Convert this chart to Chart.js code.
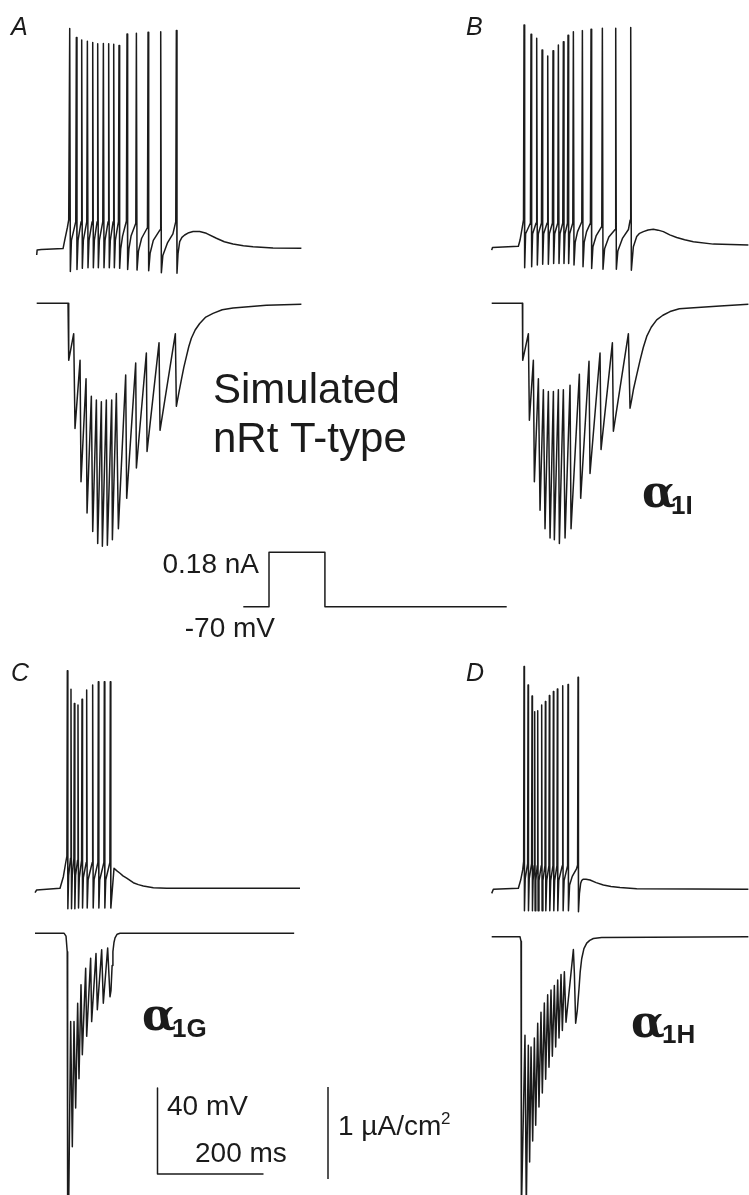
<!DOCTYPE html>
<html>
<head>
<meta charset="utf-8">
<script src="https://cdn.jsdelivr.net/npm/chart.js@4.4.1/dist/chart.umd.min.js"></script>
<style>
  html, body { margin: 0; padding: 0; background: #fff; }
  #fig { display: block; }
</style>
</head>
<body>
<canvas id="fig" width="749" height="1195"></canvas>
<script>
// ---- data: time in ms, voltage in mV, current in uA/cm2 ----

// A: simulated nRt T-type
const voltA = [
  [0,-72.8],[0.8,-70.5],[8.8,-70.2],[49.7,-69.8],[52.8,-66],[57.9,-60],[60.4,-56.5],
  [62.3,32.6],[63.5,-80.5],
  [65.5,-66],[73.7,-57.3],[74.8,28.4],[76,-79.5],
  [78,-66],[83.8,-57.3],[84.9,27.2],[86.1,-79],
  [88,-66],[94.5,-57.3],[95.6,26.6],[96.8,-78.7],
  [98.7,-66],[104.6,-57.3],[105.7,26.1],[106.9,-78.7],
  [108.8,-66],[114,-57.3],[115.1,25.5],[116.3,-78.7],
  [118.2,-66],[124.7,-57.3],[125.8,25.6],[127,-78.7],
  [128.9,-66],[134.7,-57.3],[135.8,25.5],[137,-78.7],
  [138.9,-66],[144.2,-57.3],[145.3,25.2],[146.5,-78.7],
  [148.4,-66],[154.2,-57.3],[155.3,24.7],[156.5,-79],
  [158.5,-70],[162,-64],[169.3,-57],[170.4,30],[171.6,-79.5],
  [174,-70],[178,-64],[187,-58],[188.1,30.3],[189.3,-79.8],
  [192,-71],[198,-65],[209,-60],[210.1,30.8],[211.3,-80.1],
  [214,-72],[220,-66],[232.9,-61],[234,31.1],[235.2,-81],
  [238,-73],[247,-67],[257,-63],[262.4,-57.3],[263.5,31.6],[264.7,-81.3],
  [266.7,-72],[269.8,-66.6],[274,-64.6],[279.2,-63.5],[287,-62.4],[295,-61.9],
  [307.5,-61.9],[320.1,-62.7],[339,-65],[354,-66.6],[370.4,-67.7],[390,-68.5],
  [408.2,-68.9],[445.9,-69.5],[499.4,-69.7]
];
const currA = [
  [0,0],[59.1,0],[60.4,-0.62],[69.8,-0.33],[72.3,-1.36],
  [81.8,-0.62],[83.6,-1.94],[93.1,-0.82],[95,-2.28],
  [103.1,-1.01],[105.7,-2.48],[112.6,-1.05],[115.1,-2.61],
  [122,-1.07],[123.9,-2.64],[131.4,-1.05],[133.3,-2.63],
  [141.5,-1.05],[142.8,-2.57],[150.3,-0.98],[154.1,-2.45],
  [167.9,-0.78],[169.8,-2.12],[186.8,-0.65],[188.1,-1.79],
  [206.9,-0.54],[208.2,-1.61],[230.8,-0.43],[232.7,-1.38],
  [261.6,-0.33],[263.5,-1.12],
  [268,-0.98],[273,-0.83],[277.5,-0.7],[282.4,-0.58],[287,-0.47],[291.8,-0.38],
  [299,-0.29],[307.5,-0.22],[319,-0.15],[332.7,-0.11],[350,-0.07],
  [370.4,-0.05],[433.3,-0.02],[499.4,-0.01]
];

// B: alpha1I
const voltB = [
  [0,-71.6],[1.5,-70.4],[50.3,-69.8],[53.5,-66.9],[57.9,-60.7],[60,-57.5],
  [61,33.1],[62.2,-79.8],
  [64,-64],[73.1,-59],[74.2,28.8],[75.4,-79.3],
  [77.2,-64],[83.8,-59],[84.9,26.9],[86.1,-78.5],
  [88,-64],[93.9,-59],[95,21.5],[96.2,-78.2],
  [98,-64],[104.6,-59],[105.7,18.7],[106.9,-78.2],
  [108.8,-64],[114.6,-59],[115.7,21.1],[116.9,-77.8],
  [118.8,-64],[124.7,-59],[125.8,23.8],[127,-77.8],
  [128.9,-64],[134.1,-59],[135.2,25.3],[136.4,-77.8],
  [138.3,-64],[142.9,-59],[144,28.4],[145.2,-77.8],
  [147.1,-64],[153,-59],[154.1,30],[155.3,-78.5],
  [157.5,-68],[162,-63],[170,-58.4],[171.1,30.5],[172.3,-79.3],
  [174.5,-68],[179,-63],[186.3,-59],[187.4,31.1],[188.6,-80.1],
  [191,-70],[197,-65],[207.7,-60.5],[208.8,31.6],[210,-80.5],
  [213,-71],[221,-65.5],[232.9,-62],[234,31.6],[235.2,-80.5],
  [238,-72],[247,-66],[258,-62],[261.2,-57.6],[262.3,32],[263.5,-80.9],
  [267.3,-70],[273.6,-65.3],[279,-63.8],[286.2,-63],[295,-62.2],[305,-61.9],
  [314,-62.3],[323.9,-63],[336,-64.5],[349.1,-65.7],[364,-66.8],[380.5,-67.7],
  [418.2,-68.8],[484.3,-69.2]
];
const currB = [
  [0,0],[57.9,0],[58.5,-0.62],[69.2,-0.33],[71.1,-1.27],
  [78.6,-0.62],[80.5,-1.94],[88.1,-0.82],[91.2,-2.25],
  [97.5,-0.94],[100.6,-2.45],[106.9,-0.96],[110.1,-2.55],
  [116.4,-0.96],[118.2,-2.57],[125.8,-0.94],[127.7,-2.61],
  [135.2,-0.94],[138.4,-2.55],[147.8,-0.89],[149.7,-2.45],
  [165.4,-0.77],[167.9,-2.12],[183.6,-0.63],[185.5,-1.85],
  [204.4,-0.54],[206.3,-1.59],[227.7,-0.43],[229.6,-1.39],
  [257.9,-0.33],[261,-1.14],
  [264,-1.05],[267.3,-0.94],[273.5,-0.78],[279.9,-0.62],[286,-0.48],[292.5,-0.36],
  [301,-0.26],[311.3,-0.18],[323,-0.13],[336.5,-0.09],[354,-0.06],
  [374.2,-0.05],[430.8,-0.03],[484.3,-0.01]
];

// C: alpha1G
const voltC = [
  [0,-72],[3.1,-70.8],[47.2,-70],[53.5,-64.6],[58,-58],[60.2,-55],
  [61,31.2],[62,-79.5],
  [63.5,-64],[67.1,-56],[67.9,22.6],[68.9,-79.5],
  [70.3,-64],[73.4,-56],[74.2,16],[75.2,-79.5],
  [76.6,-64],[80.3,-57],[81.1,15.3],[82.1,-79.2],
  [83.6,-65],[87.9,-57],[88.7,17.9],[89.7,-79.2],
  [91.2,-65],[96.7,-58],[97.5,22.2],[98.5,-79.2],
  [100.2,-66],[108,-58],[108.8,24.6],[109.8,-79.2],
  [111.5,-66],[118.7,-58],[119.5,26.1],[120.5,-79.2],
  [122.2,-66],[130,-58],[130.8,26.1],[131.8,-79.2],
  [133.5,-66],[141.3,-58],[142.1,26.1],[143.1,-79.2],
  [149.1,-60.7],[154,-61.8],[160.4,-63],[166,-64.2],[173,-65.3],[185.5,-67.4],
  [195,-68.3],[204.4,-68.9],[223.3,-69.7],[248.4,-70],[500,-70]
];
const currC = [
  [0,0],[55,0],[58.5,-0.03],[60.8,-0.2],[61.6,-3.0],[63.5,-3.0],
  [67.3,-0.96],[70.4,-2.32],[73.6,-0.96],[76.7,-1.9],
  [80.5,-0.76],[83,-1.58],[86.8,-0.56],[89.3,-1.32],
  [95.6,-0.38],[97.5,-1.12],[105,-0.27],[106.9,-0.96],
  [115.1,-0.22],[117.6,-0.83],[125.8,-0.18],[128.9,-0.76],
  [137.1,-0.16],[141.5,-0.69],[143.4,-0.62],[145.5,-0.35],[147,-0.2],
  [149,-0.1],[151,-0.05],[155,-0.01],[160.4,0],[489,0]
];

// D: alpha1H
const voltD = [
  [0,-71.9],[3.1,-70],[50.3,-69.5],[54.7,-65.7],[58.5,-61],[60.3,-57],
  [61,33.6],[61.8,-80],
  [63.2,-65],[67.8,-58],[68.6,25],[69.4,-80],
  [70.8,-65],[75.3,-58],[76.1,19.9],[76.9,-80],
  [78,-66],[80.3,-59],[81.1,12.6],[81.9,-80],
  [83.2,-66],[86,-59],[86.8,13.1],[87.6,-80],
  [89.2,-66],[93.5,-59],[94.3,15.7],[95.1,-80],
  [96.6,-66],[100.5,-59],[101.3,17.3],[102.1,-80],
  [103.8,-66],[108,-59],[108.8,20.1],[109.6,-80],
  [111.3,-66],[115.6,-59],[116.4,22],[117.2,-80],
  [118.8,-66],[123.1,-59],[123.9,23.2],[124.7,-80],
  [126.5,-66],[133.2,-59],[134,24.7],[134.8,-80],
  [136.6,-66],[143.2,-59],[144,25.3],[144.8,-80],
  [147,-68],[152,-64],[160,-60.5],[162.1,-58.7],[162.9,28.6],[163.7,-80.4],
  [165.5,-72],[167.9,-67.2],[170,-65.8],[172.9,-65.3],[178,-65.3],[185.5,-65.7],
  [197,-66.9],[210.7,-68],[225,-68.7],[242.1,-69.2],[273.6,-69.8],[484.3,-70]
];
const currD = [
  [0,0],[53.4,0],[55.3,-0.05],[56,-3.0],[62.8,-1.07],[65.3,-2.95],
  [69.1,-1.18],[71.6,-2.45],[74.2,-1.2],[77.3,-2.22],
  [80.5,-1.1],[83,-2.05],[86.8,-0.94],[89.2,-1.85],
  [93,-0.82],[95.5,-1.7],[99.3,-0.72],[101.8,-1.55],
  [105.6,-0.63],[108.1,-1.42],[111.9,-0.58],[114.4,-1.3],
  [118.2,-0.53],[120.7,-1.2],[124.5,-0.47],[127,-1.1],
  [130.8,-0.41],[133.3,-1.02],[137.1,-0.38],[140.2,-0.93],
  [154.1,-0.14],[156,-0.4],[158.4,-0.94],[161.5,-0.8],[164.8,-0.56],[167,-0.38],
  [169.8,-0.24],[174,-0.13],[179.3,-0.07],[185,-0.04],[191.8,-0.02],[207.5,-0.01],[484.3,0]
];

// current injection protocol (nA)
const stimTime = [0, 48.5, 48.5, 154, 154, 497];
const stimAmp = [0, 0, 0.18, 0.18, 0, 0];

// scale bars
const barTime = 200;   // ms
const barVolt = 40;    // mV
const barCurr = 1;     // uA/cm2

// ---- layout (pixels) ----
const W = 749, H = 1195;
const MS_PX = 0.53;   // px per ms
const MV_PX = 2.15;   // px per mV
const UA_PX = 92;     // px per uA/cm2
const NA_PX = 302;    // px per nA

// value v0 sits at pixel p0
function xAxis(p0) {
  const min = -p0 / MS_PX;
  return { type: 'linear', axis: 'x', position: 'bottom', display: false, min: min, max: min + W / MS_PX };
}
function yAxis(p0, v0, k) {
  const max = v0 + p0 / k;
  return { type: 'linear', axis: 'y', position: 'left', display: false, min: max - H / k, max: max };
}

const INK = '#1b1b1b';
function trace(pairs, xId, yId) {
  return {
    data: pairs.map(p => ({ x: p[0], y: p[1] })),
    xAxisID: xId, yAxisID: yId,
    showLine: true, pointRadius: 0,
    borderColor: INK, borderWidth: 1.5,
    borderJoinStyle: 'round',
    tension: 0
  };
}

const SANS = '"Liberation Sans", Arial, sans-serif';
const ALPHA = 'bold 44px "DejaVu Serif", serif';
const SUB = 'bold 26px ' + SANS;
const labels = [
  { text: 'A', x: 11, y: 35, font: 'italic 25px ' + SANS },
  { text: 'B', x: 466, y: 35, font: 'italic 25px ' + SANS },
  { text: 'C', x: 11, y: 681, font: 'italic 25px ' + SANS },
  { text: 'D', x: 466, y: 681, font: 'italic 25px ' + SANS },
  { text: 'Simulated', x: 213, y: 403, font: '42px ' + SANS },
  { text: 'nRt T-type', x: 213, y: 452, font: '42px ' + SANS },
  { text: '0.18 nA', x: 259, y: 573, font: '28px ' + SANS, align: 'right' },
  { text: '-70 mV', x: 275, y: 637, font: '28px ' + SANS, align: 'right' },
  { text: '40 mV', x: 167, y: 1115, font: '28px ' + SANS },
  { text: '200 ms', x: 195, y: 1162, font: '28px ' + SANS },
  { text: '1 \u00b5A/cm', x: 338, y: 1135, font: '28px ' + SANS },
  { text: '2', x: 441, y: 1124, font: '17px ' + SANS },
  { text: '\u03b1', x: 642, y: 507, font: ALPHA },
  { text: '1I', x: 671, y: 514, font: SUB },
  { text: '\u03b1', x: 142, y: 1030, font: ALPHA },
  { text: '1G', x: 172, y: 1037, font: SUB },
  { text: '\u03b1', x: 631, y: 1037, font: ALPHA },
  { text: '1H', x: 662, y: 1043, font: SUB }
];

const textPlugin = {
  id: 'figText',
  afterDatasetsDraw(chart) {
    const ctx = chart.ctx;
    ctx.save();
    ctx.fillStyle = INK;
    ctx.textBaseline = 'alphabetic';
    labels.forEach(l => {
      ctx.font = l.font;
      ctx.textAlign = l.align || 'left';
      ctx.fillText(l.text, l.x, l.y);
    });
    ctx.restore();
  }
};

const datasets = [
  trace(voltA, 'xA', 'vA'), trace(currA, 'xA', 'iA'),
  trace(voltB, 'xB', 'vB'), trace(currB, 'xB', 'iB'),
  trace(voltC, 'xC', 'vC'), trace(currC, 'xC', 'iC'),
  trace(voltD, 'xD', 'vD'), trace(currD, 'xD', 'iD'),
  trace(stimTime.map((t, i) => [t, stimAmp[i]]), 'xS', 'nS'),
  trace([[0, barVolt], [0, 0], [barTime, 0]], 'xBar', 'vBar'),
  trace([[0, 0], [0, barCurr]], 'xIbar', 'iBar')
];

new Chart(document.getElementById('fig'), {
  type: 'scatter',
  data: { datasets: datasets },
  options: {
    responsive: false,
    animation: false,
    events: [],
    layout: { padding: 0 },
    plugins: { legend: { display: false }, tooltip: { enabled: false }, title: { display: false } },
    scales: {
      x: { display: false }, y: { display: false },
      xA: xAxis(36.7), vA: yAxis(249, -70, MV_PX), iA: yAxis(303.3, 0, UA_PX),
      xB: xAxis(491.7), vB: yAxis(246.7, -70, MV_PX), iB: yAxis(303.3, 0, UA_PX),
      xC: xAxis(35), vC: yAxis(888.3, -70, MV_PX), iC: yAxis(933.3, 0, UA_PX),
      xD: xAxis(491.7), vD: yAxis(889.3, -70, MV_PX), iD: yAxis(936.7, 0, UA_PX),
      xS: xAxis(243.3), nS: yAxis(606.7, 0, NA_PX),
      xBar: xAxis(157.5), vBar: yAxis(1174, 0, MV_PX),
      xIbar: xAxis(328), iBar: yAxis(1179, 0, UA_PX)
    }
  },
  plugins: [textPlugin]
});
</script>
</body>
</html>
